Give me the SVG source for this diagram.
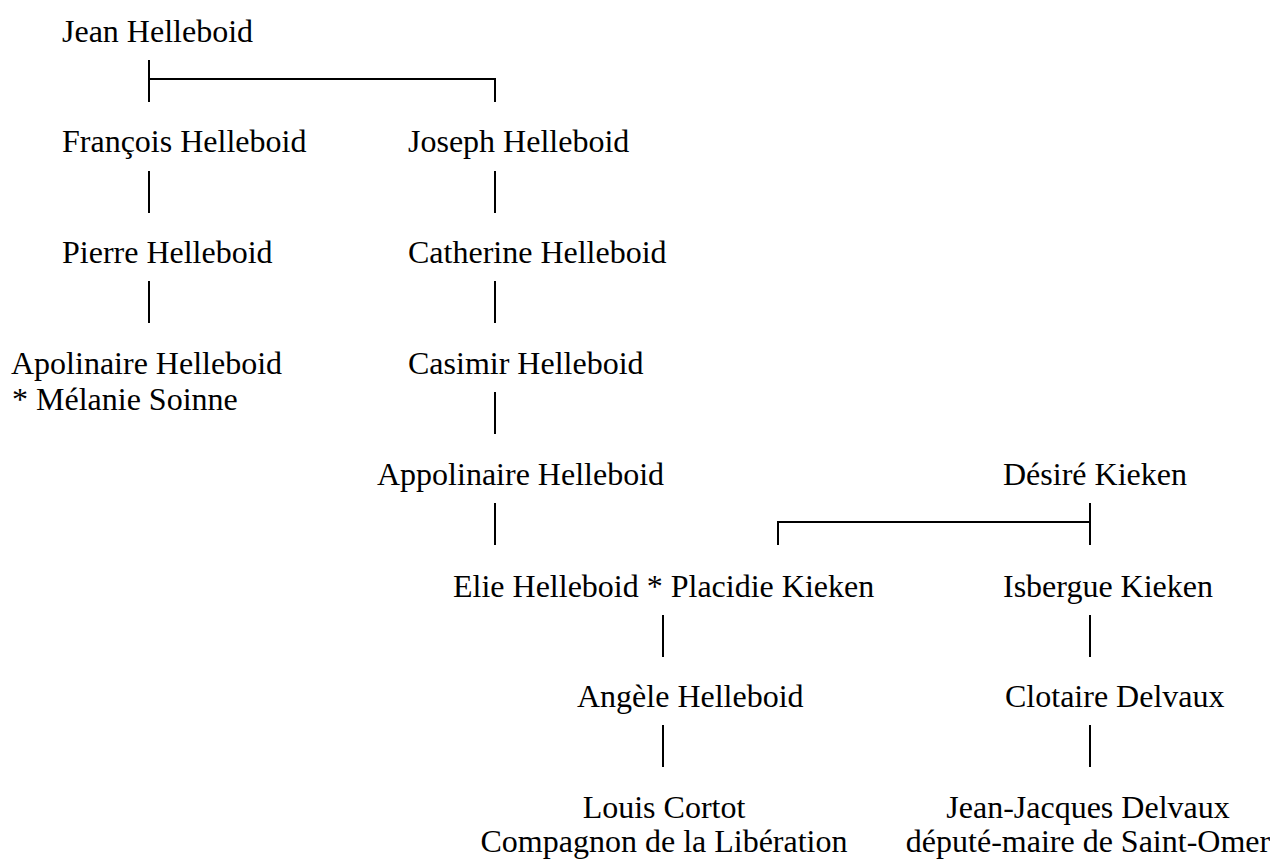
<svg xmlns="http://www.w3.org/2000/svg" width="1270" height="860" viewBox="0 0 1270 860">
<style>
text { font-family: "Liberation Serif", "Times New Roman", serif; font-size: 32px; fill: #000; }
.c { text-anchor: middle; }
line, polyline { stroke: #000; stroke-width: 2; fill: none; }
</style>
<rect width="1270" height="860" fill="#fff"/>
<g id="connectors">
<line x1="149" y1="60" x2="149" y2="102"/>
<polyline points="149,79 495,79 495,102"/>
<line x1="149" y1="171" x2="149" y2="213"/>
<line x1="149" y1="281" x2="149" y2="323"/>
<line x1="495" y1="171" x2="495" y2="213"/>
<line x1="495" y1="281" x2="495" y2="323"/>
<line x1="495" y1="392" x2="495" y2="434"/>
<line x1="495" y1="503" x2="495" y2="545"/>
<line x1="1090" y1="503" x2="1090" y2="545"/>
<polyline points="1090,522 778,522 778,545"/>
<line x1="663" y1="615" x2="663" y2="657"/>
<line x1="663" y1="725" x2="663" y2="767"/>
<line x1="1090" y1="615" x2="1090" y2="657"/>
<line x1="1090" y1="725" x2="1090" y2="767"/>
</g>
<g id="jean"><text x="62" y="42">Jean Helleboid</text></g>
<g id="francois"><text x="62" y="152">François Helleboid</text></g>
<g id="joseph"><text x="408" y="152">Joseph Helleboid</text></g>
<g id="pierre"><text x="62" y="263">Pierre Helleboid</text></g>
<g id="catherine"><text x="408" y="263">Catherine Helleboid</text></g>
<g id="apolinaire"><text x="11" y="374">Apolinaire Helleboid</text><text x="12" y="410">* Mélanie Soinne</text></g>
<g id="casimir"><text x="408" y="374">Casimir Helleboid</text></g>
<g id="appolinaire"><text x="377" y="485">Appolinaire Helleboid</text></g>
<g id="desire"><text x="1003" y="485">Désiré Kieken</text></g>
<g id="elie"><text x="453" y="597">Elie Helleboid * Placidie Kieken</text></g>
<g id="isbergue"><text x="1003" y="597">Isbergue Kieken</text></g>
<g id="angele"><text x="577" y="707">Angèle Helleboid</text></g>
<g id="clotaire"><text x="1005" y="707">Clotaire Delvaux</text></g>
<g id="louis"><text class="c" x="664" y="818">Louis Cortot</text><text class="c" x="664" y="852">Compagnon de la Libération</text></g>
<g id="jeanjacques"><text class="c" x="1088" y="818">Jean-Jacques Delvaux</text><text class="c" x="1088" y="852">député-maire de Saint-Omer</text></g>
</svg>
